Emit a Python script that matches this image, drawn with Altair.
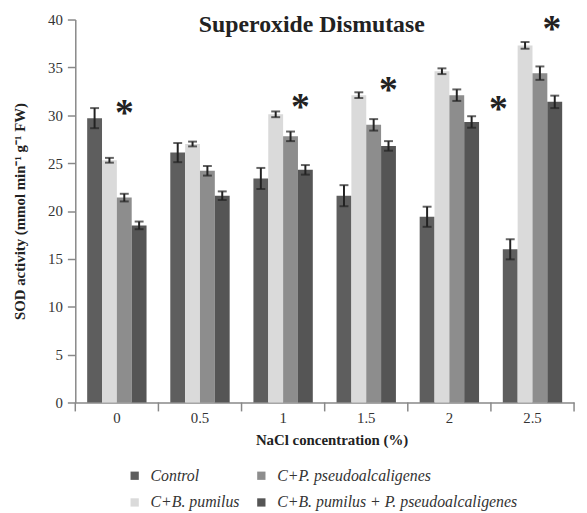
import altair as alt
import pandas as pd

groups = ["0", "0.5", "1", "1.5", "2", "2.5"]
series = ["Control", "C+B. pumilus", "C+P. pseudoalcaligenes", "C+B. pumilus + P. pseudoalcaligenes"]
colors = {"Control": "#5e5e5e", "C+B. pumilus": "#dadada",
          "C+P. pseudoalcaligenes": "#8d8d8d", "C+B. pumilus + P. pseudoalcaligenes": "#555555"}

control = [29.7, 26.1, 23.4, 21.6, 19.4, 16.0]
control_err = [1.05, 1.0, 1.1, 1.1, 1.05, 1.05]
bpum = [25.3, 27.0, 30.1, 32.1, 34.6, 37.3]
bpum_err = [0.25, 0.25, 0.3, 0.3, 0.3, 0.35]
ppseudo = [21.4, 24.2, 27.8, 29.0, 32.1, 34.4]
ppseudo_err = [0.4, 0.5, 0.5, 0.6, 0.6, 0.7]
comb = [18.5, 21.6, 24.3, 26.8, 29.3, 31.4]
comb_err = [0.4, 0.45, 0.5, 0.5, 0.6, 0.65]

# significance asterisks: group, slot, height
star_groups = ["0", "1", "1.5", "2", "2.5"]
star_slots = ["C+P. pseudoalcaligenes", "C+B. pumilus + P. pseudoalcaligenes",
              "C+B. pumilus + P. pseudoalcaligenes", "C+B. pumilus + P. pseudoalcaligenes",
              "C+B. pumilus + P. pseudoalcaligenes"]
star_y = [30.6, 31.3, 33.0, 31.1, 39.4]
star_shift = [0, -5, 0, 27, -3]

rows = []
for s, vals, errs in zip(series, [control, bpum, ppseudo, comb],
                         [control_err, bpum_err, ppseudo_err, comb_err]):
    for g, v, e in zip(groups, vals, errs):
        rows.append({"group": g, "series": s, "value": v, "lo": v - e, "hi": v + e})
df = pd.DataFrame(rows)
gdf = pd.DataFrame({"group": groups})
sdf = pd.DataFrame({"group": star_groups, "series": star_slots, "y": star_y, "shift": star_shift})

W, H = 504, 387
serif = "Liberation Serif"

xscale = alt.Scale(domain=groups, paddingInner=0, paddingOuter=0)
xoff = alt.XOffset("series:N", scale=alt.Scale(domain=series, paddingInner=0, paddingOuter=0.8))
yscale = alt.Scale(domain=[0, 40], nice=False)

bars = alt.Chart(df).mark_bar().encode(
    x=alt.X("group:N", scale=xscale, title="NaCl concentration (%)",
            axis=alt.Axis(labelAngle=0, ticks=False, labelPadding=8, labelFontSize=15,
                          labelFont=serif, labelColor="#333", domainColor="#888",
                          domainWidth=1.5, titleFont=serif, titleFontSize=15,
                          titleFontWeight="bold", titleColor="#222", titlePadding=7,
                          titleX=259)),
    xOffset=xoff,
    y=alt.Y("value:Q", scale=yscale,
            title="SOD activity (mmol min\u207b\u00b9 g\u207b\u00b9 FW)",
            axis=alt.Axis(values=list(range(0, 41, 5)), grid=False, tickSize=8,
                          tickColor="#888", tickWidth=1.5, domainColor="#888", domainWidth=1.5,
                          labelFont=serif, labelFontSize=15, labelColor="#333", labelPadding=5,
                          titleFont=serif, titleFontSize=15, titleFontWeight="bold",
                          titleColor="#222", titlePadding=20)),
    color=alt.Color("series:N",
                    scale=alt.Scale(domain=series, range=[colors[s] for s in series]),
                    legend=alt.Legend(title=None, orient="none", legendX=52, legendY=453,
                                      columns=2, columnPadding=14, rowPadding=11, labelOffset=8,
                                      symbolType="square", symbolSize=70, symbolStrokeWidth=0,
                                      labelFont=serif, labelFontStyle="italic", labelFontSize=16,
                                      labelColor="#333", labelLimit=400,
                                      labelExpr="datum.label == 'C+B. pumilus + P. pseudoalcaligenes' ? '\u00a0\u00a0' + datum.label : datum.label")),
)

err = alt.Chart(df).mark_rule(color="#222", strokeWidth=2).encode(
    x=alt.X("group:N", scale=xscale),
    xOffset=xoff,
    y=alt.Y("lo:Q", scale=yscale),
    y2="hi:Q",
)
cap_lo = alt.Chart(df).mark_tick(color="#222", thickness=2, size=9).encode(
    x=alt.X("group:N", scale=xscale), xOffset=xoff,
    y=alt.Y("lo:Q", scale=yscale))
cap_hi = alt.Chart(df).mark_tick(color="#222", thickness=2, size=9).encode(
    x=alt.X("group:N", scale=xscale), xOffset=xoff,
    y=alt.Y("hi:Q", scale=yscale))

bticks = alt.Chart(gdf).mark_rule(color="#888", strokeWidth=1.5).encode(
    x=alt.X("group:N", scale=xscale, bandPosition=0),
    y=alt.value(H), y2=alt.value(H + 9))
eticks = alt.Chart(gdf).transform_filter(alt.datum.group == groups[-1]).mark_rule(
    color="#888", strokeWidth=1.5).encode(
    x=alt.X("group:N", scale=xscale, bandPosition=1),
    y=alt.value(H), y2=alt.value(H + 9))

stars = []
for sh in sorted(set(star_shift)):
    stars.append(alt.Chart(sdf).transform_filter(alt.datum.shift == sh).mark_text(
        text="*", font=serif, fontWeight="bold", fontSize=38, color="#222",
        baseline="middle", dx=sh, dy=5).encode(
        x=alt.X("group:N", scale=xscale), xOffset=xoff,
        y=alt.Y("y:Q", scale=yscale)))

chart = alt.layer(bars, err, cap_lo, cap_hi, bticks, eticks, *stars).properties(
    width=W, height=H,
    title=alt.TitleParams("Superoxide Dismutase", font=serif, fontSize=24, fontWeight="bold",
                          color="#222", anchor="middle", dx=-13, offset=-26),
    autosize=alt.AutoSizeParams(type="none"),
    padding={"left": 68, "top": 9, "right": 5, "bottom": 108},
).configure_view(stroke=None)

chart.save("out.html", embed_options={"renderer": "svg", "actions": False})
